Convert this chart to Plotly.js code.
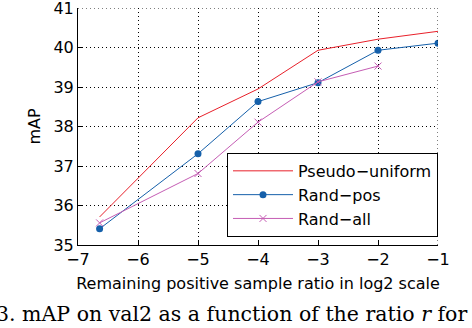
<!DOCTYPE html>
<html>
<head>
<meta charset="utf-8">
<script src="https://cdn.plot.ly/plotly-3.0.1.min.js"></script>
<style>
  html, body { margin: 0; padding: 0; background: #fff; }
  #chart { width: 472px; height: 328px; }
</style>
</head>
<body>
<div id="chart"></div>
<script>
// log2 of the remaining positive sample ratio
const ratioLog2 = [-6.64, -5, -4, -3, -2, -1];
const ratioLog2All = [-6.64, -5, -4, -3, -2];

const pseudoUniform = [35.71, 38.22, 38.95, 39.93, 40.21, 40.41];
const randPos = [35.41, 37.31, 38.63, 39.11, 39.93, 40.11];
const randAll = [35.56, 36.81, 38.11, 39.13, 39.53];

const xTicks = [-7, -6, -5, -4, -3, -2, -1];
const xTickText = ['\u22127', '\u22126', '\u22125', '\u22124', '\u22123', '\u22122', '\u22121'];
const yTicks = [35, 36, 37, 38, 39, 40, 41];

const FONT = 'DejaVu Sans, sans-serif';
const GRID_DASH = '1px,3px';

const traces = [
    {
        x: ratioLog2, y: pseudoUniform, name: 'Pseudo\u2212uniform',
        type: 'scatter', mode: 'lines',
        line: { color: '#e8202a', width: 1 }
    },
    {
        x: ratioLog2, y: randPos, name: 'Rand\u2212pos',
        type: 'scatter', mode: 'lines+markers',
        line: { color: '#1560aa', width: 1 },
        marker: { symbol: 'circle', size: 7, color: '#1560aa' }
    },
    {
        x: ratioLog2All, y: randAll, name: 'Rand\u2212all',
        type: 'scatter', mode: 'lines+markers',
        line: { color: '#c55db4', width: 1 },
        marker: { symbol: 'x-thin', size: 7, line: { color: '#c55db4', width: 1 } }
    }
];

const axisCommon = {
    showline: true,
    linecolor: '#000',
    linewidth: 1,
    mirror: false,
    ticks: 'inside',
    ticklen: 4,
    tickcolor: '#000',
    showgrid: true,
    gridcolor: '#000',
    gridwidth: 1,
    griddash: GRID_DASH,
    zeroline: false,
    ticklabeloverflow: 'allow',
    tickfont: { family: FONT, size: 16, color: '#000' }
};

// plotly skips grid lines at the range ends, so the top and right dotted lines are shapes
const edgeLines = [
    { type: 'line', xref: 'paper', yref: 'y', x0: 0, x1: 1, y0: 41, y1: 41,
      line: { color: '#000', width: 1, dash: GRID_DASH } },
    { type: 'line', xref: 'x', yref: 'paper', x0: -1, x1: -1, y0: 0, y1: 1,
      line: { color: '#000', width: 1, dash: GRID_DASH } }
];

const layout = {
    width: 472,
    height: 328,
    paper_bgcolor: '#fff',
    plot_bgcolor: '#fff',
    margin: { l: 78, r: 34, t: 8, b: 83 },
    showlegend: true,
    legend: {
        x: 1, y: 0.034, xanchor: 'right', yanchor: 'bottom',
        bgcolor: '#fff', bordercolor: '#000', borderwidth: 1,
        font: { family: FONT, size: 16, color: '#000' },
        itemwidth: 60
    },
    xaxis: Object.assign({}, axisCommon, {
        range: [-7, -1],
        tickvals: xTicks,
        ticktext: xTickText,
        title: { text: 'Remaining positive sample ratio in log2 scale', font: { family: FONT, size: 16, color: '#000' }, standoff: 9 }
    }),
    yaxis: Object.assign({}, axisCommon, {
        range: [35, 41],
        tickvals: yTicks,
        title: { text: 'mAP', font: { family: FONT, size: 16, color: '#000' }, standoff: 8 }
    }),
    shapes: edgeLines,
    annotations: [
        {
            xref: 'paper', yref: 'paper', x: -0.233, y: -0.29,
            xanchor: 'left', yanchor: 'middle', showarrow: false,
            text: '3. mAP on val2 as a function of the ratio <i>r</i> for',
            font: { family: 'DejaVu Serif, serif', size: 20.5, color: '#000' }
        }
    ]
};

Plotly.newPlot('chart', traces, layout, { staticPlot: true, displayModeBar: false });
</script>
</body>
</html>
